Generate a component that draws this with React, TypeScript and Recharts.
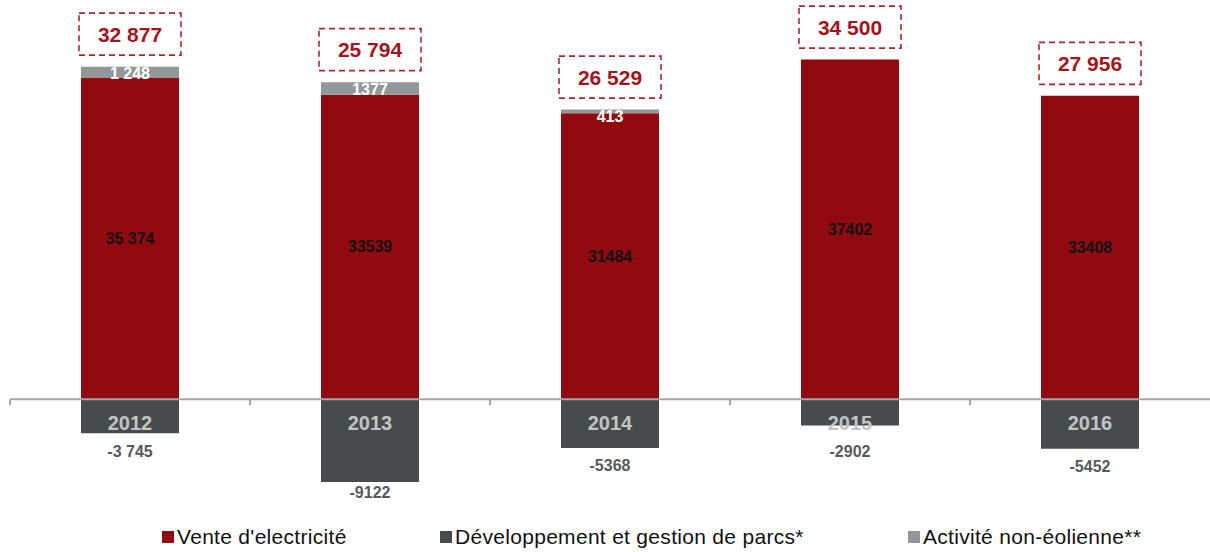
import React from 'react';
import { BarChart, Bar, XAxis, YAxis, ReferenceLine, LabelList } from 'recharts';

const years = ['2012', '2013', '2014', '2015', '2016'];
const vente = [35374, 33539, 31484, 37402, 33408];
const developpement = [-3745, -9122, -5368, -2902, -5452];
const activite = [1248, 1377, 413, 0, 0];
const totals = [32877, 25794, 26529, 34500, 27956];

const venteLabels = ['35 374', '33539', '31484', '37402', '33408'];
const devLabels = ['-3 745', '-9122', '-5368', '-2902', '-5452'];
const activiteLabels = ['1 248', '1377', '413', '', ''];

const RED = '#900a10';
const DARK = '#464b4e';
const GREY = '#92989a';
const BOX = '#a8262c';
const FONT = '"Liberation Sans", Arial, sans-serif';

const data = years.map((year, i) => ({
  year,
  vente: vente[i],
  dev: developpement[i],
  activite: activite[i],
  total: totals[i],
}));

const fmtSpace = (n: number) => String(n).replace(/\B(?=(\d{3})+(?!\d))/g, ' ');

const span = (p: any) => {
  const y = Number(p.y);
  const h = Number(p.height);
  return { top: Math.min(y, y + h), bottom: Math.max(y, y + h), cx: Number(p.x) + Number(p.width) / 2 };
};

// red label + the dashed total box above the full positive stack
const VenteLabel = (p: any) => {
  const { top, bottom, cx } = span(p);
  const i = p.index;
  const pxPerUnit = (bottom - top) / vente[i];
  const stackTop = top - activite[i] * pxPerUnit;
  const boxBottom = stackTop - 11.5;
  return (
    <g>
      <text x={cx} y={(top + bottom) / 2} textAnchor="middle" dominantBaseline="central"
        fontFamily={FONT} fontWeight="bold" fontSize={16} fill="#111">
        {venteLabels[i]}
      </text>
      <rect x={cx - 51} y={boxBottom - 42} width={102} height={42} fill="none"
        stroke={BOX} strokeWidth={1.6} strokeDasharray="6 4" />
      <text x={cx} y={boxBottom - 21} textAnchor="middle" dominantBaseline="central"
        fontFamily={FONT} fontWeight="bold" fontSize={21} fill="#a3141c">
        {fmtSpace(totals[i])}
      </text>
    </g>
  );
};

const DevLabel = (p: any) => {
  const { top, bottom, cx } = span(p);
  const vy = Math.min(Math.max(bottom + 18, 451), 492);
  return (
    <g>
      <text x={cx} y={top + 24} textAnchor="middle" dominantBaseline="central"
        fontFamily={FONT} fontWeight="bold" fontSize={20} fill="#c4c4c4">
        {years[p.index]}
      </text>
      <text x={cx} y={vy} textAnchor="middle" dominantBaseline="central"
        fontFamily={FONT} fontWeight="bold" fontSize={16} fill="#555a5c">
        {devLabels[p.index]}
      </text>
    </g>
  );
};

const ActiviteLabel = (p: any) => {
  const { top, bottom, cx } = span(p);
  const label = activiteLabels[p.index];
  if (!label) return null;
  return (
    <text x={cx} y={Math.max((top + bottom) / 2, top + 7)} textAnchor="middle" dominantBaseline="central"
      fontFamily={FONT} fontWeight="bold" fontSize={16} fill="#fff">
      {label}
    </text>
  );
};

const AxisTicks = (p: any) => {
  const vb = p.viewBox || {};
  const n = years.length;
  return (
    <g>
      {Array.from({ length: n }, (_, i) => {
        const x = vb.x + (vb.width / n) * i;
        return <line key={i} x1={x} x2={x} y1={vb.y} y2={vb.y + 6} stroke="#a6a6a6" strokeWidth={2} />;
      })}
    </g>
  );
};

const legendItems = [
  { label: "Vente d'electricité", color: RED, left: 162 },
  { label: 'Développement et gestion de parcs*', color: DARK, left: 440 },
  { label: 'Activité non-éolienne**', color: GREY, left: 908 },
];

export default function App() {
  return (
    <div style={{ position: 'absolute', left: 0, top: 0, width: 1210, height: 552, background: '#fff' }}>
      <BarChart width={1210} height={500} data={data} stackOffset="sign" barSize={98}
        margin={{ top: 36, right: 0, bottom: 10, left: 10 }}>
        <XAxis dataKey="year" hide />
        <YAxis hide domain={[-10000, 40000]} />
        <Bar dataKey="vente" stackId="a" fill={RED} isAnimationActive={false}>
          <LabelList dataKey="vente" content={VenteLabel} />
        </Bar>
        <Bar dataKey="dev" stackId="a" fill={DARK} isAnimationActive={false}>
          <LabelList dataKey="dev" content={DevLabel} />
        </Bar>
        <Bar dataKey="activite" stackId="a" fill={GREY} isAnimationActive={false}>
          <LabelList dataKey="activite" content={ActiviteLabel} />
        </Bar>
        <ReferenceLine y={0} stroke="#a6a6a6" strokeWidth={2} label={<AxisTicks />} />
      </BarChart>
      {legendItems.map((it) => (
        <div key={it.label} style={{ position: 'absolute', left: it.left, top: 525, display: 'flex', alignItems: 'center',
          fontFamily: FONT, fontSize: 21, letterSpacing: 0.3, color: '#111', whiteSpace: 'nowrap' }}>
          <span style={{ display: 'inline-block', width: 12, height: 12, background: it.color, marginRight: 3 }} />
          {it.label}
        </div>
      ))}
    </div>
  );
}
